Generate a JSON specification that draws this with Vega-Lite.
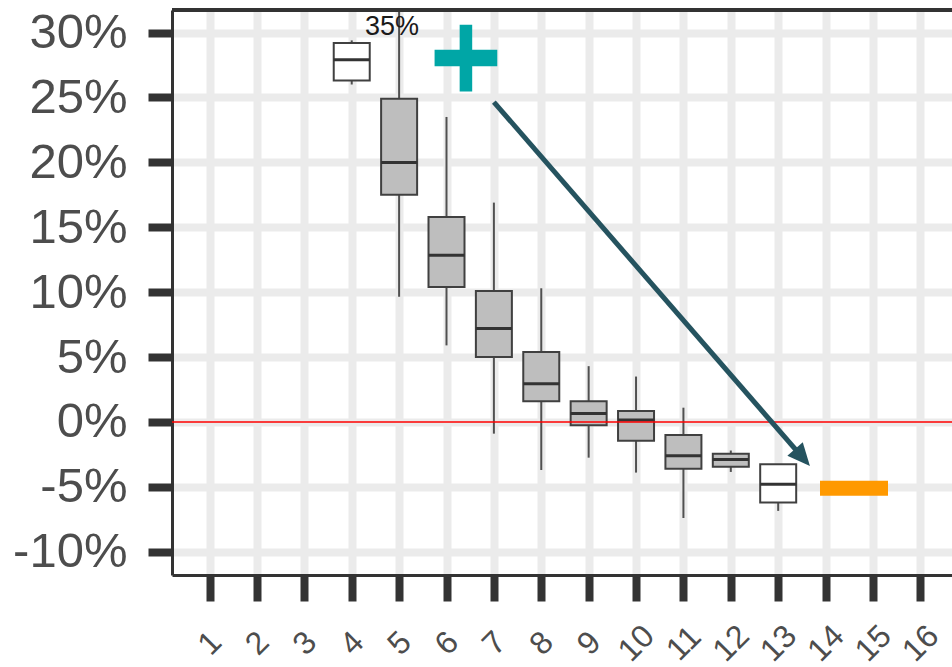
{
  "$schema": "https://vega.github.io/schema/vega-lite/v6.json",
  "width": 780,
  "height": 565,
  "autosize": {"type": "none"},
  "padding": {"left": 172, "top": 10, "right": 0, "bottom": 92},
  "background": "white",
  "config": {
    "view": {"stroke": null},
    "font": "Liberation Sans",
    "axis": {
      "gridColor": "#EBEBEB",
      "gridWidth": 8,
      "domainColor": "#333333",
      "domainWidth": 3,
      "tickColor": "#333333",
      "tickWidth": 8,
      "labelColor": "#4D4D4D",
      "labelFont": "Liberation Sans"
    }
  },
  "datasets": {
    "boxes": [
      {"x": 4, "lower": 26.0, "q1": 26.3, "median": 27.9, "q3": 29.2, "upper": 29.4, "group": "open"},
      {"x": 5, "lower": 9.65, "q1": 17.5, "median": 20.0, "q3": 24.9, "upper": 35, "group": "filled"},
      {"x": 6, "lower": 5.9, "q1": 10.4, "median": 12.85, "q3": 15.8, "upper": 23.5, "group": "filled"},
      {"x": 7, "lower": -0.9, "q1": 5.0, "median": 7.2, "q3": 10.1, "upper": 16.9, "group": "filled"},
      {"x": 8, "lower": -3.7, "q1": 1.6, "median": 2.95, "q3": 5.4, "upper": 10.3, "group": "filled"},
      {"x": 9, "lower": -2.75, "q1": -0.25, "median": 0.65, "q3": 1.6, "upper": 4.3, "group": "filled"},
      {"x": 10, "lower": -3.9, "q1": -1.45, "median": 0.15, "q3": 0.85, "upper": 3.5, "group": "filled"},
      {"x": 11, "lower": -7.4, "q1": -3.6, "median": -2.6, "q3": -1.0, "upper": 1.1, "group": "filled"},
      {"x": 12, "lower": -3.85, "q1": -3.45, "median": -2.9, "q3": -2.45, "upper": -2.2, "group": "filled"},
      {"x": 13, "lower": -6.85, "q1": -6.2, "median": -4.8, "q3": -3.25, "upper": -3.25, "group": "open"}
    ],
    "refs": [
      {"name": "zero", "value": 0},
      {"name": "top", "value": 31.74}
    ]
  },
  "layer": [
    {
      "data": {"name": "boxes"},
      "mark": {"type": "rule", "color": "#505050", "strokeWidth": 2, "clip": true},
      "encoding": {
        "x": {
          "field": "x", "type": "quantitative",
          "scale": {"domain": [0.3125, 16.5625], "nice": false, "zero": false},
          "axis": {
            "orient": "bottom",
            "title": null,
            "values": [1,2,3,4,5,6,7,8,9,10,11,12,13,14,15,16],
            "grid": true,
            "tickSize": 26,
            "labelFontSize": 32,
            "labelAngle": -45,
            "labelAlign": "center",
            "labelBaseline": "middle",
            "labelPadding": 42,
            "labelOverlap": false,
            "labelFlush": false
          }
        },
        "y": {
          "field": "lower", "type": "quantitative",
          "scale": {"domain": [-11.79, 31.74], "nice": false, "zero": false},
          "axis": {
            "orient": "left",
            "title": null,
            "values": [-10, -5, 0, 5, 10, 15, 20, 25, 30],
            "labelExpr": "datum.value + '%'",
            "grid": true,
            "tickSize": 24,
            "labelFontSize": 49,
            "labelPadding": 21,
            "labelAlign": "right",
            "labelBaseline": "middle",
            "labelOverlap": false,
            "labelFlush": false
          }
        },
        "y2": {"field": "upper"}
      }
    },
    {
      "data": {"name": "boxes"},
      "mark": {"type": "bar", "width": 36, "stroke": "#404040", "strokeWidth": 2},
      "encoding": {
        "x": {"field": "x", "type": "quantitative", "axis": null},
        "y": {"field": "q1", "type": "quantitative", "axis": null},
        "y2": {"field": "q3"},
        "fill": {
          "field": "group", "type": "nominal",
          "scale": {"domain": ["filled", "open"], "range": ["#BEBEBE", "#FFFFFF"]},
          "legend": null
        }
      }
    },
    {
      "data": {"name": "boxes"},
      "mark": {"type": "tick", "orient": "horizontal", "size": 36, "thickness": 3, "color": "#333333", "opacity": 1},
      "encoding": {
        "x": {"field": "x", "type": "quantitative", "axis": null},
        "y": {"field": "median", "type": "quantitative", "axis": null}
      }
    },
    {
      "data": {"name": "refs"},
      "transform": [{"filter": "datum.name === 'zero'"}],
      "mark": {"type": "rule", "color": "#FF0000", "strokeWidth": 1.5},
      "encoding": {"y": {"field": "value", "type": "quantitative", "axis": null}}
    },
    {
      "data": {"name": "refs"},
      "transform": [{"filter": "datum.name === 'top'"}],
      "mark": {"type": "rule", "color": "#333333", "strokeWidth": 4},
      "encoding": {"y": {"field": "value", "type": "quantitative", "axis": null}}
    },
    {
      "data": {"values": [{"x1": 7.0, "y1": 24.65, "x2": 13.53, "y2": -2.81}]},
      "mark": {"type": "rule", "color": "#25535F", "strokeWidth": 5},
      "encoding": {
        "x": {"field": "x1", "type": "quantitative", "axis": null},
        "y": {"field": "y1", "type": "quantitative", "axis": null},
        "x2": {"field": "x2"},
        "y2": {"field": "y2"}
      }
    },
    {
      "data": {"values": [{"x": 13.67, "y": -3.39}]},
      "mark": {"type": "point", "shape": "M0,0L-1,2.2L1,2.2Z", "size": 420, "angle": 138.7, "filled": true, "color": "#25535F", "opacity": 1},
      "encoding": {
        "x": {"field": "x", "type": "quantitative", "axis": null},
        "y": {"field": "y", "type": "quantitative", "axis": null}
      }
    },
    {
      "data": {"values": [{"x": 6.41, "y": 28.04}]},
      "mark": {"type": "point", "shape": "M-1,-0.266H1V0.266H-1Z M-0.2,-1.064H0.2V1.064H-0.2Z", "size": 3931, "filled": true, "color": "#00A6A6", "opacity": 1},
      "encoding": {
        "x": {"field": "x", "type": "quantitative", "axis": null},
        "y": {"field": "y", "type": "quantitative", "axis": null}
      }
    },
    {
      "data": {"values": [{"x": 14.6, "y": -5.1}]},
      "mark": {"type": "tick", "orient": "horizontal", "size": 68, "thickness": 15, "color": "#FF9900", "opacity": 1},
      "encoding": {
        "x": {"field": "x", "type": "quantitative", "axis": null},
        "y": {"field": "y", "type": "quantitative", "axis": null}
      }
    },
    {
      "data": {"values": [{"x": 4.85, "y": 30.4, "label": "35%"}]},
      "mark": {"type": "text", "fontSize": 27, "color": "#1A1A1A", "align": "center", "baseline": "middle", "font": "Liberation Sans"},
      "encoding": {
        "x": {"field": "x", "type": "quantitative", "axis": null},
        "y": {"field": "y", "type": "quantitative", "axis": null},
        "text": {"field": "label"}
      }
    }
  ],
  "resolve": {"axis": {"x": "independent", "y": "independent"}}
}
